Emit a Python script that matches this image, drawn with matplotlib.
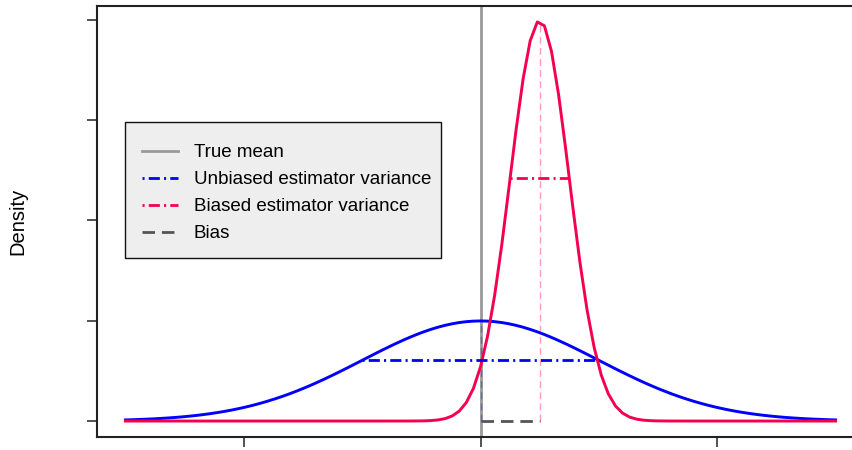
import numpy as np
import matplotlib.pyplot as plt
from matplotlib.lines import Line2D
from matplotlib.patches import Rectangle

plt.rcParams['font.family'] = ['Liberation Sans', 'DejaVu Sans']
plt.rcParams['lines.scale_dashes'] = False

# --------------------------------------------
# parameters
# --------------------------------------------
true_mean = 0.0
unbiased_mean = 0.0
unbiased_sd = 1.0
biased_mean = 0.5
biased_sd = 0.25
x_from, x_to, n_points = -3.0, 3.0, 101      # like R's curve(), n = 101

x_ticks = [-2, 0, 2]
y_ticks = [0.0, 0.4, 0.8, 1.2, 1.6]

legend_labels = ["True mean", "Unbiased estimator variance",
                 "Biased estimator variance", "Bias"]

BLUE = "#0000FF"
RED = "#F5004F"
GRAY = "#999999"
DARK = "#555555"


def dnorm(x, m, s):
    return np.exp(-0.5 * ((x - m) / s) ** 2) / (s * np.sqrt(2 * np.pi))


xs = np.linspace(x_from, x_to, n_points)
y_unb = dnorm(xs, unbiased_mean, unbiased_sd)
y_bia = dnorm(xs, biased_mean, biased_sd)

peak_unb = dnorm(unbiased_mean, unbiased_mean, unbiased_sd)
peak_bia = dnorm(biased_mean, biased_mean, biased_sd)

# --------------------------------------------
# figure
# --------------------------------------------
W, H = 853, 450
fig = plt.figure(figsize=(W / 100, H / 100), dpi=100)
ax = fig.add_axes([97 / W, 13 / H, 767 / W, 431 / H])

ax.plot(xs, y_unb, color=BLUE, lw=2.1, zorder=3)
ax.plot(xs, y_bia, color=RED, lw=2.1, zorder=4)

ax.axvline(true_mean, color=GRAY, lw=2.0, zorder=2)

# faint lines at the estimator means
ax.plot([unbiased_mean, unbiased_mean], [0, peak_unb], color=BLUE, alpha=0.35,
        lw=1.0, dashes=(5, 3), zorder=2.5)
ax.plot([biased_mean, biased_mean], [0, peak_bia], color="#FF9EBB",
        lw=1.0, dashes=(5, 3), zorder=2.5)

# +/- 1 sd
ax.plot([unbiased_mean - unbiased_sd, unbiased_mean + unbiased_sd],
        [dnorm(unbiased_mean + unbiased_sd, unbiased_mean, unbiased_sd)] * 2,
        color=BLUE, lw=2.0, dashes=(1.5, 3, 8, 3), zorder=5)
ax.plot([biased_mean - biased_sd, biased_mean + biased_sd],
        [dnorm(biased_mean + biased_sd, biased_mean, biased_sd)] * 2,
        color=RED, lw=2.0, dashes=(1.5, 3, 8, 3), zorder=5)

# bias
ax.plot([true_mean, biased_mean], [0, 0], color=DARK, lw=2.0,
        dashes=(9, 5), zorder=5)

peak_max = max(y_bia.max(), y_unb.max())
pad_x = 0.04 * (x_to - x_from)
pad_y = 0.04 * peak_max
ax.set_xlim(x_from - pad_x, x_to + pad_x)
ax.set_ylim(-pad_y, peak_max + pad_y)

ax.set_xticks(x_ticks)
ax.set_yticks(y_ticks)
ax.set_xticklabels([])
ax.set_yticklabels([])
ax.tick_params(direction="out", length=7, width=1.2, color="#333333")
for s in ax.spines.values():
    s.set_linewidth(1.5)
    s.set_color("#222222")
ax.spines["right"].set_visible(False)

fig.text(18 / W, 1 - 221 / H, "Density", rotation=90, ha="center",
         va="center", fontsize=14.5)

# legend box (R style: drawn separately)
box = Rectangle((125 / W, 1 - 258 / H), 316 / W, 136 / H,
                transform=fig.transFigure, facecolor="#EEEEEE",
                edgecolor="#111111", lw=1.0, zorder=4)
fig.patches.append(box)

handles = [
    Line2D([], [], color=GRAY, lw=2.0),
    Line2D([], [], color=BLUE, lw=2.0, dashes=(1.5, 3, 8, 3)),
    Line2D([], [], color=RED, lw=2.0, dashes=(1.5, 3, 8, 3)),
    Line2D([], [], color=DARK, lw=2.0, dashes=(9, 5)),
]
leg = fig.legend(handles, legend_labels, loc="upper left",
                 bbox_to_anchor=(142 / W, 1 - 144 / H), borderaxespad=0,
                 fontsize=13.5, frameon=False,
                 handlelength=1.9, handletextpad=0.85, borderpad=0,
                 labelspacing=0.53)
leg.set_zorder(6)

fig.savefig("out.png", dpi=100)
